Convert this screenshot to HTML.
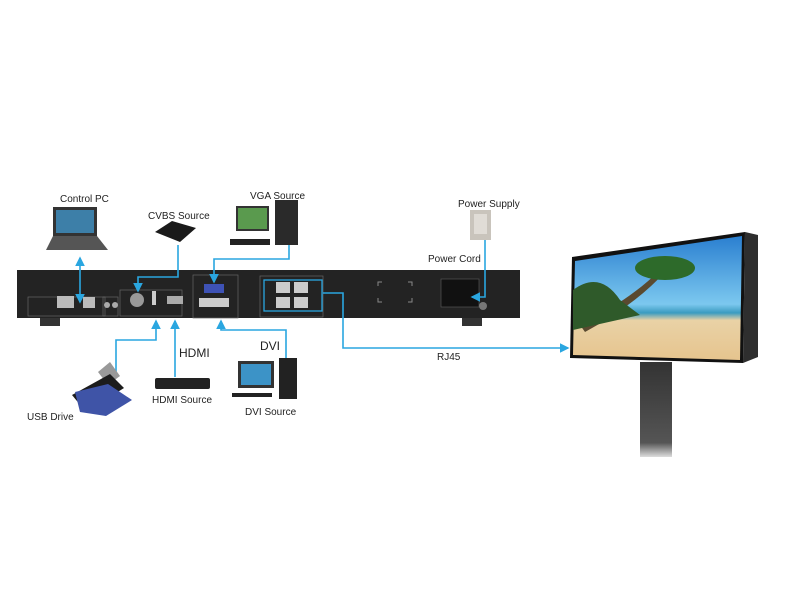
<!DOCTYPE html>
<html><head><meta charset="utf-8"><style>
html,body{margin:0;padding:0;background:#fff;}
svg{display:block;}
text{font-family:"Liberation Sans",sans-serif;fill:#222;}
</style></head><body>
<svg width="800" height="600" viewBox="0 0 800 600" xmlns="http://www.w3.org/2000/svg">
<defs>
<marker id="ah" markerWidth="6" markerHeight="6" refX="5" refY="3" orient="auto" markerUnits="strokeWidth"><path d="M0,0 L6,3 L0,6 z" fill="#2aa6e0"/></marker>
<marker id="as" markerWidth="6" markerHeight="6" refX="1" refY="3" orient="auto" markerUnits="strokeWidth"><path d="M6,0 L0,3 L6,6 z" fill="#2aa6e0"/></marker>
<linearGradient id="sky" x1="0" y1="0" x2="0" y2="1"><stop offset="0" stop-color="#2a7fd0"/><stop offset="0.55" stop-color="#7cc8ef"/><stop offset="0.62" stop-color="#3a9bc0"/><stop offset="0.68" stop-color="#e9d2a6"/><stop offset="1" stop-color="#e6c48e"/></linearGradient>
<linearGradient id="pole" x1="0" y1="0" x2="0" y2="1"><stop offset="0" stop-color="#333"/><stop offset="0.85" stop-color="#555"/><stop offset="1" stop-color="#ddd"/></linearGradient>
</defs>

<!-- device -->
<rect x="17" y="270" width="503" height="48" fill="#232323"/>
<rect x="40" y="318" width="20" height="8" fill="#333"/>
<rect x="462" y="318" width="20" height="8" fill="#333"/>
<rect x="28" y="297" width="77" height="19" fill="none" stroke="#666" stroke-width="0.7"/>
<rect x="57" y="296" width="17" height="12" fill="#bbb"/>
<rect x="83" y="297" width="12" height="11" fill="#bbb"/>
<rect x="103" y="297" width="15" height="19" fill="none" stroke="#666" stroke-width="0.7"/>
<circle cx="107" cy="305" r="3" fill="#aaa"/><circle cx="115" cy="305" r="3" fill="#aaa"/>
<rect x="120" y="290" width="62" height="26" fill="none" stroke="#666" stroke-width="0.7"/>
<circle cx="137" cy="300" r="7" fill="#999"/>
<rect x="152" y="291" width="4" height="14" fill="#ccc"/>
<rect x="167" y="296" width="16" height="8" fill="#aaa"/>
<rect x="193" y="275" width="45" height="43" fill="none" stroke="#666" stroke-width="0.7"/>
<rect x="204" y="284" width="20" height="9" fill="#3e52b5"/>
<rect x="199" y="298" width="30" height="9" fill="#ccc"/>
<rect x="260" y="276" width="63" height="41" fill="none" stroke="#666" stroke-width="0.7"/>
<rect x="264" y="280" width="58" height="31" fill="none" stroke="#2aa6e0" stroke-width="1.3"/>
<rect x="276" y="282" width="14" height="11" fill="#ccc"/><rect x="294" y="282" width="14" height="11" fill="#ccc"/>
<rect x="276" y="297" width="14" height="11" fill="#ccc"/><rect x="294" y="297" width="14" height="11" fill="#ccc"/>
<rect x="441" y="279" width="38" height="28" fill="#111" stroke="#555" stroke-width="0.7"/>
<circle cx="483" cy="306" r="4" fill="#777"/>
<path d="M378,286v-4h4 M408,282h4v4 M378,298v4h4 M408,302h4v-4" stroke="#888" fill="none"/>

<!-- connectors -->
<g stroke="#2aa6e0" stroke-width="1.6" fill="none">
<line x1="80" y1="258" x2="80" y2="302" marker-start="url(#as)" marker-end="url(#ah)"/>
<path d="M178,245 V277 H138 V291" marker-end="url(#ah)"/>
<path d="M289,245 V259 H214 V282" marker-end="url(#ah)"/>
<path d="M116,373 V340 H156 V321" marker-end="url(#ah)"/>
<path d="M175,377 V321" marker-end="url(#ah)"/>
<path d="M286,360 V330 H221 V321" marker-end="url(#ah)"/>
<path d="M323,293 H343 V348 H568" marker-end="url(#ah)"/>
<path d="M485,240 V297 H472" marker-end="url(#ah)"/>
</g>

<!-- laptop -->
<rect x="53" y="207" width="44" height="29" fill="#333"/>
<rect x="56" y="210" width="38" height="23" fill="#3d7fa8"/>
<path d="M46,250 L53,236 H97 L108,250 Z" fill="#555"/>
<!-- cvbs -->
<path d="M155,232 L172,221 L196,228 L180,242 Z" fill="#1a1a1a"/>
<!-- VGA pc -->
<rect x="236" y="206" width="33" height="25" fill="#333"/><rect x="238" y="208" width="29" height="21" fill="#5a9a4e"/>
<rect x="275" y="200" width="23" height="45" fill="#2a2a2a"/>
<rect x="230" y="239" width="40" height="6" fill="#222"/>
<!-- power supply -->
<rect x="470" y="210" width="21" height="30" fill="#c9c4bc"/>
<rect x="474" y="214" width="13" height="20" fill="#e0dcd6"/>
<!-- usb drive -->
<path d="M98,372 L110,362 L120,376 L108,385 Z" fill="#999"/>
<path d="M72,395 L110,374 L124,388 L86,412 Z" fill="#1c1c1c"/>
<path d="M75,392 L108,384 L132,400 L106,416 L80,412 Z" fill="#3f54a7"/>
<!-- hdmi source -->
<rect x="155" y="378" width="55" height="11" fill="#222" rx="2"/>
<!-- dvi pc -->
<rect x="238" y="361" width="36" height="27" fill="#333"/><rect x="241" y="364" width="30" height="21" fill="#3c93c7"/>
<rect x="279" y="358" width="18" height="41" fill="#222"/>
<rect x="232" y="393" width="40" height="4" fill="#222"/>

<!-- screen -->
<path d="M745,232 L758,235 L758,357 L743,363 Z" fill="#2e2e2e"/>
<path d="M572,257 L745,232 L743,363 L570,358 Z" fill="#111"/>
<path d="M575,261 L742,236 L740,360 L573,355 Z" fill="url(#sky)"/>
<path d="M580,325 Q630,300 660,270 L665,272 Q635,305 585,332 Z" fill="#5a4a30"/>
<path d="M573,290 Q600,270 620,300 L640,315 L573,330 Z" fill="#2f5a2a"/>
<ellipse cx="665" cy="268" rx="30" ry="12" fill="#2d6a2a"/>
<rect x="640" y="362" width="32" height="95" fill="url(#pole)"/>

<!-- labels -->
<g font-size="10">
<text x="60" y="202">Control PC</text>
<text x="148" y="219">CVBS Source</text>
<text x="250" y="199">VGA Source</text>
<text x="458" y="207">Power Supply</text>
<text x="428" y="262">Power Cord</text>
<text x="437" y="360">RJ45</text>
<text x="152" y="403">HDMI Source</text>
<text x="245" y="415">DVI Source</text>
<text x="27" y="420">USB Drive</text>
</g>
<text x="179" y="357" font-size="12">HDMI</text>
<text x="260" y="350" font-size="12">DVI</text>
</svg>
</body></html>
